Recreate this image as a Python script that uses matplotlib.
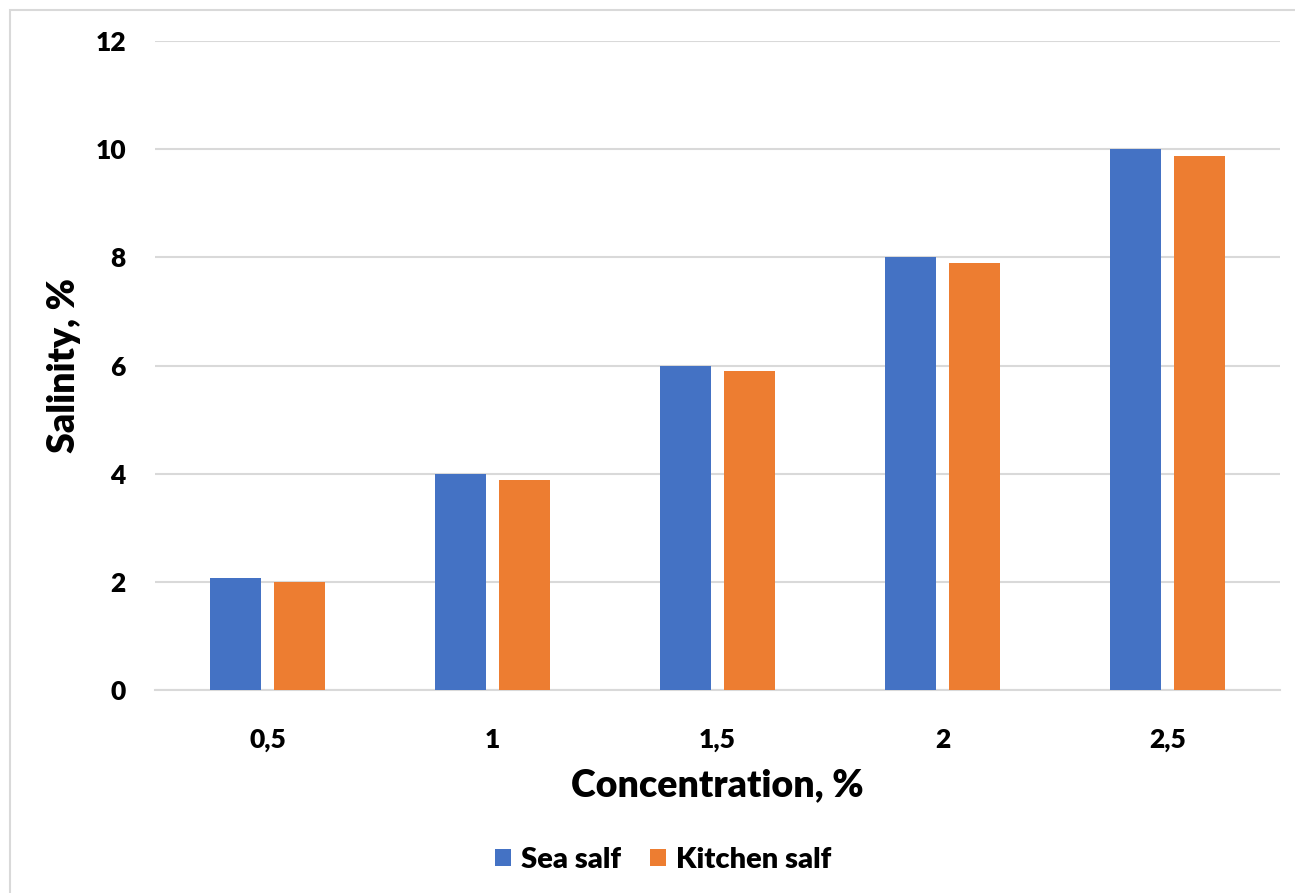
import matplotlib.pyplot as plt
import numpy as np
from matplotlib.patches import Rectangle

# data
concentration = ['0,5', '1', '1,5', '2', '2,5']
sea_salf = [2.08, 4.0, 6.0, 8.0, 10.0]
kitchen_salf = [2.0, 3.88, 5.9, 7.9, 9.88]

plt.rcParams['font.family'] = ['Lato', 'DejaVu Sans']
plt.rcParams['font.weight'] = 'heavy'

fig = plt.figure(figsize=(12.95, 8.93), dpi=100)
# light frame round the chart area like the excel export
fig.patches.append(Rectangle((10/1295, -0.01), 1.02, 1 - 10/893 + 0.01, transform=fig.transFigure,
                             fill=False, edgecolor='#d9d9d9', lw=1.5))
ax = fig.add_axes([155/1295, 1 - 690/893, 1125/1295, 649/893])

x = np.arange(len(concentration))
w = 0.227
off = 0.142
ax.bar(x - off, sea_salf, w, color='#4472c4', label='Sea salf', zorder=3)
ax.bar(x + off, kitchen_salf, w, color='#ed7d31', label='Kitchen salf', zorder=3)

ax.set_xlim(-0.5, len(concentration) - 0.5)
ax.set_ylim(0, 12)
ax.set_yticks(range(0, 13, 2))
ax.set_xticks(x)
ax.set_xticklabels(concentration)
ax.yaxis.grid(True, color='#d9d9d9', lw=1.5, zorder=0)
for s in ['top', 'right', 'left']:
    ax.spines[s].set_visible(False)
ax.spines['bottom'].set_color('#d9d9d9')
ax.spines['bottom'].set_linewidth(1.5)
ax.tick_params(length=0, labelsize=19)
ax.tick_params(axis='x', pad=27)
ax.tick_params(axis='y', pad=21)

ax.set_xlabel('Concentration, %', fontsize=27, fontweight='heavy', labelpad=12)
ax.set_ylabel('Salinity, %', fontsize=27, fontweight='heavy', labelpad=10)

ax.legend(loc='center', bbox_to_anchor=(663/1295, 1 - 860/893), bbox_transform=fig.transFigure,
          ncol=2, frameon=False, prop={'size': 21, 'weight': 'heavy'}, handlelength=0.55,
          handleheight=0.55, handletextpad=0.35, columnspacing=1.0)

fig.savefig('out.png', dpi=100)
